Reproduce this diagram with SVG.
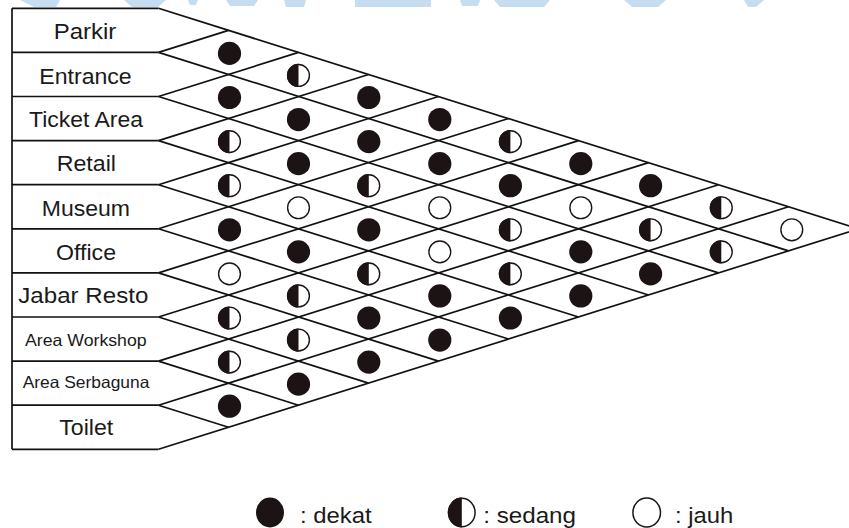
<svg xmlns="http://www.w3.org/2000/svg" xmlns:xlink="http://www.w3.org/1999/xlink" width="849" height="528" viewBox="0 0 849 528">
<style>
.ln{stroke:#111;stroke-width:1.7;fill:none;stroke-linecap:butt}
.lbl{font-family:"Liberation Sans",Arial,sans-serif;font-size:21.5px;fill:#1a1a1a;text-anchor:middle}
.sm{font-size:16.5px}
.lg{font-family:"Liberation Sans",Arial,sans-serif;font-size:22px;fill:#1a1a1a}
.wm{fill:#c6ddef}
</style>
<defs>
<g id="full"><circle r="11.6" fill="#1c1414"/></g>
<g id="half"><circle r="10.9" fill="#fff" stroke="#1c1414" stroke-width="1.4"/><path d="M0,-11.6 A11.6,11.6 0 0 0 0,11.6 Z" fill="#1c1414"/></g>
<g id="empty"><circle r="10.9" fill="#fff" stroke="#1c1414" stroke-width="1.4"/></g>
</defs>
<rect width="849" height="528" fill="#fff"/>
<g id="watermark">
<polygon class="wm" points="20,0 60,0 56,7 34,7"/>
<polygon class="wm" points="124,0 166,0 158,7 132,7"/>
<polygon class="wm" points="188,0 198,0 196,5 190,5"/>
<polygon class="wm" points="226,0 258,0 254,6 230,6"/>
<polygon class="wm" points="284,0 306,0 304,7 286,7"/>
<rect class="wm" x="355" y="0" width="76" height="7"/>
<polygon class="wm" points="460,0 480,0 478,6 462,6"/>
<polygon class="wm" points="494,0 550,0 544,7 500,7"/>
<polygon class="wm" points="624,0 666,0 658,7 632,7"/>
<polygon class="wm" points="744,0 764,0 756,7 748,7"/>
</g>
<g id="frame">
<path class="ln" d="M12,8.3 V449.3"/>
<path class="ln" d="M12,8.3 H158.5 M12,52.4 H158.5 M12,96.5 H158.5 M12,140.6 H158.5 M12,184.7 H158.5 M12,228.8 H158.5 M12,272.9 H158.5 M12,317 H158.5 M12,361.1 H158.5 M12,405.2 H158.5 M12,449.3 H158.5"/>
</g>
<g id="connectors">
<path class="ln" d="M158.5,8.3 L858.5,228.8 M158.5,52.4 L788.5,250.85 M158.5,96.5 L718.5,272.9 M158.5,140.6 L648.5,294.95 M158.5,184.7 L578.5,317 M158.5,228.8 L508.5,339.05 M158.5,272.9 L438.5,361.1 M158.5,317 L368.5,383.15 M158.5,361.1 L298.5,405.2 M158.5,405.2 L228.5,427.25"/>
<path class="ln" d="M158.5,52.4 L228.5,30.35 M158.5,96.5 L298.5,52.4 M158.5,140.6 L368.5,74.45 M158.5,184.7 L438.5,96.5 M158.5,228.8 L508.5,118.55 M158.5,272.9 L578.5,140.6 M158.5,317 L648.5,162.65 M158.5,361.1 L718.5,184.7 M158.5,405.2 L788.5,206.75 M158.5,449.3 L858.5,228.8"/>
</g>
<g id="node-parkir"><text class="lbl" x="85" y="39.3" textLength="62.7" lengthAdjust="spacingAndGlyphs">Parkir</text></g>
<g id="node-entrance"><text class="lbl" x="85.5" y="83.8" textLength="92.4" lengthAdjust="spacingAndGlyphs">Entrance</text></g>
<g id="node-ticket-area"><text class="lbl" x="86" y="127" textLength="114" lengthAdjust="spacingAndGlyphs">Ticket Area</text></g>
<g id="node-retail"><text class="lbl" x="86.3" y="170.8" textLength="59.3" lengthAdjust="spacingAndGlyphs">Retail</text></g>
<g id="node-museum"><text class="lbl" x="85.9" y="215.8" textLength="88.3" lengthAdjust="spacingAndGlyphs">Museum</text></g>
<g id="node-office"><text class="lbl" x="86" y="259.8" textLength="60" lengthAdjust="spacingAndGlyphs">Office</text></g>
<g id="node-jabar-resto"><text class="lbl" x="83.3" y="303.4" textLength="130" lengthAdjust="spacingAndGlyphs">Jabar Resto</text></g>
<g id="node-area-workshop"><text class="lbl sm" x="85.8" y="345.5" textLength="121.7" lengthAdjust="spacingAndGlyphs">Area Workshop</text></g>
<g id="node-area-serbaguna"><text class="lbl sm" x="86" y="388.3" textLength="126.7" lengthAdjust="spacingAndGlyphs">Area Serbaguna</text></g>
<g id="node-toilet"><text class="lbl" x="86.3" y="435" textLength="54" lengthAdjust="spacingAndGlyphs" style="font-size:22.5px">Toilet</text></g>
<g id="cells">
<use href="#full" x="229.5" y="53.4"/>
<use href="#full" x="229.5" y="97.5"/>
<use href="#half" x="229.5" y="141.6"/>
<use href="#half" x="229.5" y="185.7"/>
<use href="#full" x="229.5" y="229.8"/>
<use href="#empty" x="229.5" y="273.9"/>
<use href="#half" x="229.5" y="318"/>
<use href="#half" x="229.5" y="362.1"/>
<use href="#full" x="229.5" y="406.2"/>
<use href="#half" x="298.5" y="75.45"/>
<use href="#full" x="298.5" y="119.55"/>
<use href="#full" x="298.5" y="163.65"/>
<use href="#empty" x="298.5" y="207.75"/>
<use href="#full" x="298.5" y="251.85"/>
<use href="#half" x="298.5" y="295.95"/>
<use href="#half" x="298.5" y="340.05"/>
<use href="#full" x="298.5" y="384.15"/>
<use href="#full" x="368.8" y="97.5"/>
<use href="#full" x="368.8" y="141.6"/>
<use href="#half" x="368.8" y="185.7"/>
<use href="#full" x="368.8" y="229.8"/>
<use href="#half" x="368.8" y="273.9"/>
<use href="#full" x="368.8" y="318"/>
<use href="#full" x="368.8" y="362.1"/>
<use href="#full" x="439.8" y="119.55"/>
<use href="#full" x="439.8" y="163.65"/>
<use href="#empty" x="439.8" y="207.75"/>
<use href="#empty" x="439.8" y="251.85"/>
<use href="#full" x="439.8" y="295.95"/>
<use href="#full" x="439.8" y="340.05"/>
<use href="#half" x="510.4" y="141.6"/>
<use href="#full" x="510.4" y="185.7"/>
<use href="#half" x="510.4" y="229.8"/>
<use href="#half" x="510.4" y="273.9"/>
<use href="#full" x="510.4" y="318"/>
<use href="#full" x="580.8" y="163.65"/>
<use href="#empty" x="580.8" y="207.75"/>
<use href="#full" x="580.8" y="251.85"/>
<use href="#full" x="580.8" y="295.95"/>
<use href="#full" x="650.6" y="185.7"/>
<use href="#half" x="650.6" y="229.8"/>
<use href="#full" x="650.6" y="273.9"/>
<use href="#half" x="721.3" y="207.75"/>
<use href="#half" x="721.3" y="251.85"/>
<use href="#empty" x="791.8" y="229.8"/>
</g>
<g id="legend">
<ellipse cx="270" cy="512.5" rx="14" ry="15" fill="#1c1414"/>
<text class="lg" x="300" y="523" textLength="71.7" lengthAdjust="spacingAndGlyphs">: dekat</text>
<ellipse cx="461.8" cy="512.5" rx="13.3" ry="14.3" fill="#fff" stroke="#1c1414" stroke-width="1.5"/>
<path d="M461.8,497.5 A14,15 0 0 0 461.8,527.5 Z" fill="#1c1414"/>
<text class="lg" x="483.3" y="523" textLength="92.7" lengthAdjust="spacingAndGlyphs">: sedang</text>
<ellipse cx="646.7" cy="512.5" rx="13.8" ry="14.5" fill="#fff" stroke="#1c1414" stroke-width="1.5"/>
<text class="lg" x="675" y="523" textLength="58.3" lengthAdjust="spacingAndGlyphs">: jauh</text>
</g>
</svg>
